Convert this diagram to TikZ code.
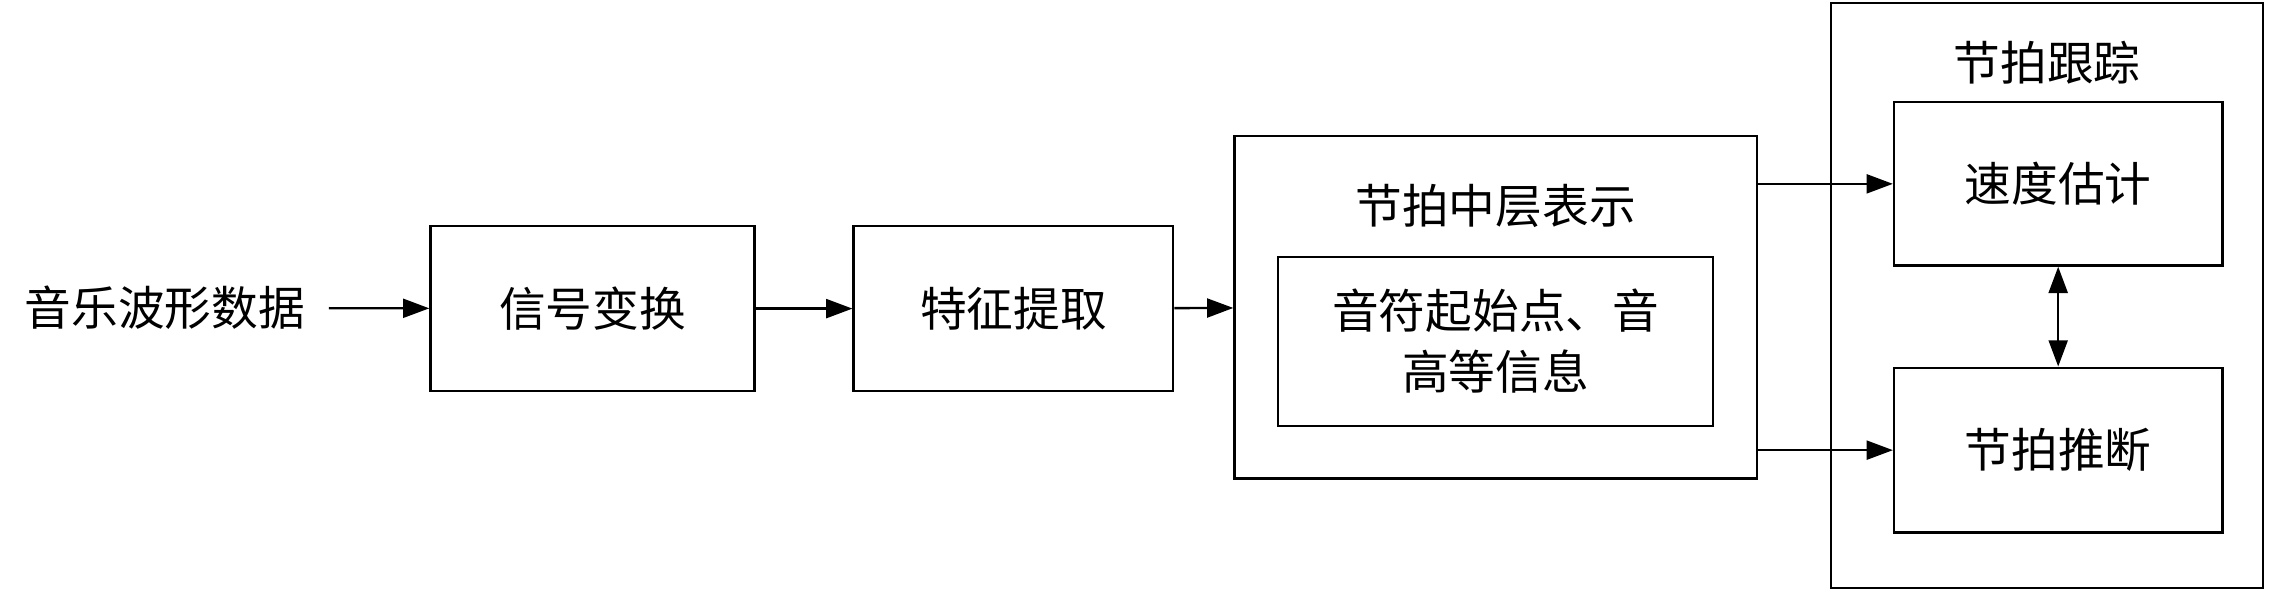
\documentclass[tikz,border=0pt]{standalone}
\usepackage{fontspec}
\newfontfamily\cjk{Noto Sans CJK SC}
\usepackage{tikz}
\usetikzlibrary{arrows.meta}
\usetikzlibrary{calc}

\begin{document}
\begin{tikzpicture}[x=0.5pt, y=-0.5pt,
	every node/.style={font=\cjk\fontsize{16}{21}\selectfont},
	box/.style={draw, line width=0.8pt, inner sep=0pt},
	>={Triangle[length=9pt, width=6.5pt]}]
	\useasboundingbox (0,0) rectangle (1568,405.7);
	% left chain
	\node[inner xsep=8pt] (data) at (113,211) {音乐波形数据};
	\node[box, minimum width=111pt, minimum height=56.5pt] (sig) at (406,211.5) {信号变换};
	\node[box, minimum width=109.5pt, minimum height=56.5pt] (feat) at (694.5,211.5) {特征提取};
	% middle block
	\node[box, minimum width=179pt, minimum height=117.5pt] (mid) at (1025,210.5) {};
	\node (midt) at (1025,141) {节拍中层表示};
	\node[box, minimum width=149pt, minimum height=58pt, align=center] (info) at (1025,234) {音符起始点、音\\高等信息};
	% beat tracking block
	\node[box, minimum width=148pt, minimum height=200.5pt] (track) at (1403,202.5) {};
	\node (trackt) at (1403,43) {节拍跟踪};
	\node[box, minimum width=112.5pt, minimum height=56pt] (tempo) at (1410.5,126) {速度估计};
	\node[box, minimum width=112.5pt, minimum height=56.5pt] (beat) at (1410.5,308.5) {节拍推断};
	\path[->, line width=0.8pt]
	(data) edge (sig)
	(sig) edge (feat)
	(feat) edge (mid)
	(mid.east |- tempo.west) edge (tempo.west)
	(mid.east |- beat.west) edge (beat.west)
	;
	\path[<->, line width=0.8pt]
	(tempo) edge (beat)
	;
\end{tikzpicture}
\end{document}
